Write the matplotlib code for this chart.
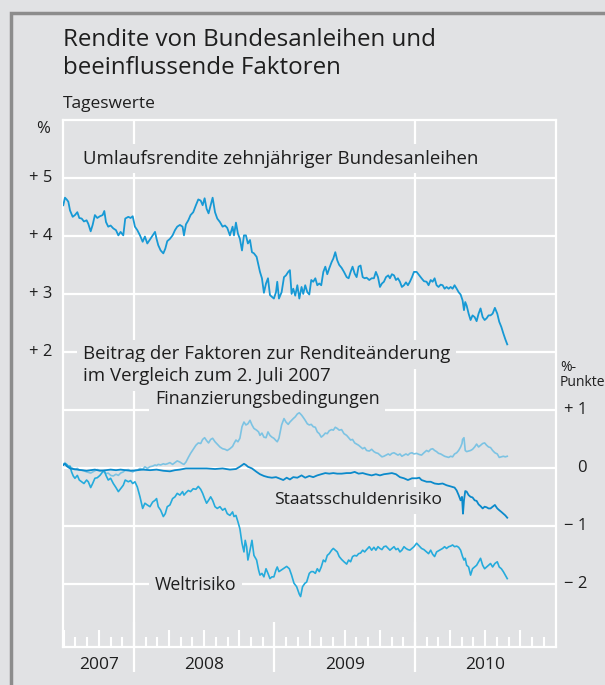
import matplotlib
matplotlib.use("Agg")
import matplotlib.pyplot as plt
from matplotlib.patches import Rectangle

plt.rcParams['font.family'] = ['Open Sans', 'DejaVu Sans']

# Umlaufsrendite zehnjähriger Bundesanleihen (%), Zeit als Dezimaljahr
rendite_t = [2007.497, 2007.509, 2007.521, 2007.533, 2007.545, 2007.564, 2007.580, 2007.597, 2007.611, 2007.628,
             2007.644, 2007.663, 2007.675, 2007.692, 2007.706, 2007.722, 2007.739, 2007.758, 2007.777, 2007.789,
             2007.801, 2007.817, 2007.834, 2007.853, 2007.872, 2007.889, 2007.905, 2007.924, 2007.938, 2007.960,
             2007.976, 2007.991, 2008.007, 2008.024, 2008.043, 2008.062, 2008.078, 2008.095, 2008.114, 2008.133,
             2008.150, 2008.161, 2008.173, 2008.190, 2008.209, 2008.223, 2008.237, 2008.256, 2008.275, 2008.292,
             2008.308, 2008.327, 2008.346, 2008.356, 2008.370, 2008.387, 2008.403, 2008.422, 2008.441, 2008.458,
             2008.475, 2008.489, 2008.503, 2008.517, 2008.531, 2008.546, 2008.560, 2008.577, 2008.593, 2008.612,
             2008.631, 2008.648, 2008.664, 2008.683, 2008.702, 2008.712, 2008.726, 2008.740, 2008.754, 2008.769,
             2008.783, 2008.797, 2008.811, 2008.826, 2008.840, 2008.854, 2008.873, 2008.887, 2008.897, 2008.911,
             2008.925, 2008.940, 2008.954, 2008.968, 2008.982, 2008.996, 2009.011, 2009.020, 2009.032,
             2009.051, 2009.068, 2009.082, 2009.098, 2009.110, 2009.122, 2009.134, 2009.148, 2009.163, 2009.177,
             2009.193, 2009.205, 2009.219, 2009.234, 2009.248, 2009.262, 2009.276, 2009.291, 2009.305, 2009.319,
             2009.333, 2009.348, 2009.362, 2009.376, 2009.390, 2009.407, 2009.419, 2009.433, 2009.447, 2009.461,
             2009.478, 2009.495, 2009.514, 2009.528, 2009.542, 2009.556, 2009.571, 2009.585, 2009.599, 2009.613,
             2009.628, 2009.642, 2009.656, 2009.675, 2009.692, 2009.708, 2009.722, 2009.737, 2009.751, 2009.765,
             2009.779, 2009.794, 2009.810, 2009.822, 2009.836, 2009.851, 2009.865, 2009.879, 2009.893, 2009.907,
             2009.922, 2009.936, 2009.950, 2009.964, 2009.979, 2009.993, 2010.012, 2010.031, 2010.047, 2010.064,
             2010.083, 2010.097, 2010.112, 2010.126, 2010.140, 2010.154, 2010.168, 2010.183, 2010.197, 2010.211,
             2010.225, 2010.240, 2010.254, 2010.268, 2010.282, 2010.297, 2010.311, 2010.325, 2010.339, 2010.349,
             2010.358, 2010.368, 2010.382, 2010.396, 2010.410, 2010.425, 2010.439, 2010.453, 2010.467, 2010.482,
             2010.496, 2010.510, 2010.524, 2010.538, 2010.553, 2010.569, 2010.586, 2010.600, 2010.615, 2010.629,
             2010.643, 2010.657]
rendite_v = [4.53, 4.66, 4.63, 4.59, 4.44, 4.33, 4.36, 4.41, 4.31, 4.30,
             4.25, 4.27, 4.21, 4.08, 4.19, 4.36, 4.31, 4.34, 4.36, 4.43,
             4.24, 4.16, 4.18, 4.13, 4.10, 4.01, 4.07, 4.01, 4.30, 4.33,
             4.31, 4.34, 4.16, 4.10, 4.01, 3.90, 3.99, 3.87, 3.94, 4.01,
             4.07, 3.95, 3.84, 3.75, 3.70, 3.78, 3.91, 3.95, 4.01, 4.10,
             4.16, 4.19, 4.16, 4.01, 4.20, 4.27, 4.36, 4.41, 4.53, 4.63,
             4.61, 4.53, 4.65, 4.47, 4.39, 4.53, 4.66, 4.41, 4.30, 4.24,
             4.16, 4.18, 4.14, 4.01, 4.16, 4.01, 4.23, 4.04, 3.95, 3.75,
             4.01, 4.01, 3.87, 3.93, 3.72, 3.70, 3.64, 3.49, 3.38, 3.27,
             3.02, 3.18, 3.27, 2.98, 2.95, 2.92, 3.03, 3.21, 2.92,
             3.03, 3.29, 3.32, 3.38, 3.41, 3.00, 3.09, 2.97, 3.15, 2.92,
             3.12, 3.00, 3.15, 3.03, 2.99, 3.24, 3.21, 3.27, 3.15, 3.18,
             3.15, 3.38, 3.47, 3.34, 3.44, 3.55, 3.61, 3.72, 3.58, 3.50,
             3.45, 3.38, 3.29, 3.27, 3.38, 3.47, 3.35, 3.29, 3.47, 3.49,
             3.29, 3.27, 3.28, 3.24, 3.27, 3.27, 3.38, 3.29, 3.12, 3.18,
             3.21, 3.29, 3.32, 3.27, 3.34, 3.32, 3.24, 3.27, 3.21, 3.12,
             3.15, 3.20, 3.15, 3.21, 3.29, 3.38, 3.38, 3.32, 3.27, 3.22,
             3.21, 3.15, 3.24, 3.21, 3.27, 3.15, 3.12, 3.16, 3.15, 3.09,
             3.12, 3.09, 3.12, 3.09, 3.15, 3.09, 3.03, 2.99, 2.89, 2.72,
             2.86, 2.80, 2.66, 2.55, 2.63, 2.60, 2.53, 2.66, 2.75, 2.60,
             2.55, 2.58, 2.63, 2.63, 2.66, 2.76, 2.66, 2.52, 2.43, 2.32,
             2.22, 2.13]

# Beitrag der Faktoren zur Renditeänderung seit 2. Juli 2007 (%-Punkte)
finanz_t = [2007.497, 2007.509, 2007.521, 2007.545, 2007.564, 2007.580, 2007.597, 2007.611, 2007.628, 2007.644,
            2007.663, 2007.692, 2007.722, 2007.739, 2007.758, 2007.777, 2007.801, 2007.817, 2007.834, 2007.853,
            2007.872, 2007.889, 2007.905, 2007.924, 2007.938, 2007.960, 2007.976, 2007.991, 2008.007, 2008.024,
            2008.043, 2008.062, 2008.078, 2008.095, 2008.114, 2008.133, 2008.150, 2008.161, 2008.173, 2008.190,
            2008.209, 2008.223, 2008.237, 2008.256, 2008.275, 2008.292, 2008.308, 2008.327, 2008.346, 2008.356,
            2008.370, 2008.387, 2008.403, 2008.422, 2008.441, 2008.458, 2008.475, 2008.489, 2008.503, 2008.517,
            2008.531, 2008.546, 2008.560, 2008.577, 2008.593, 2008.612, 2008.631, 2008.648, 2008.664, 2008.683,
            2008.702, 2008.712, 2008.726, 2008.740, 2008.754, 2008.769, 2008.783, 2008.797, 2008.811, 2008.826,
            2008.840, 2008.854, 2008.873, 2008.887, 2008.897, 2008.911, 2008.925, 2008.940, 2008.954, 2008.968,
            2008.982, 2008.996, 2009.011, 2009.020, 2009.032,
            2009.051, 2009.068, 2009.082, 2009.098, 2009.110, 2009.122, 2009.134, 2009.148, 2009.163, 2009.177,
            2009.193, 2009.205, 2009.219, 2009.234, 2009.248, 2009.262, 2009.276, 2009.291, 2009.305, 2009.319,
            2009.333, 2009.348, 2009.362, 2009.376, 2009.390, 2009.407, 2009.419, 2009.433, 2009.447, 2009.461,
            2009.478, 2009.495, 2009.514, 2009.528, 2009.542, 2009.556, 2009.571, 2009.585, 2009.599, 2009.613,
            2009.628, 2009.642, 2009.656, 2009.675, 2009.692, 2009.708, 2009.722, 2009.737, 2009.751, 2009.765,
            2009.779, 2009.794, 2009.810, 2009.822, 2009.836, 2009.851, 2009.865, 2009.879, 2009.893, 2009.907,
            2009.922, 2009.936, 2009.950, 2009.964, 2009.979, 2009.993, 2010.012, 2010.031, 2010.047, 2010.064,
            2010.083, 2010.097, 2010.112, 2010.126, 2010.140, 2010.154, 2010.168, 2010.183, 2010.197, 2010.211,
            2010.225, 2010.240, 2010.254, 2010.268, 2010.282, 2010.297, 2010.311, 2010.325, 2010.335, 2010.339,
            2010.349, 2010.358, 2010.368, 2010.382, 2010.396, 2010.410, 2010.425, 2010.439, 2010.453, 2010.467,
            2010.482, 2010.496, 2010.510, 2010.524, 2010.538, 2010.553, 2010.569, 2010.586, 2010.600, 2010.615,
            2010.629, 2010.643, 2010.657]
finanz_v = [0.06, 0.09, 0.05, 0.02, -0.01, -0.03, -0.01, -0.04, -0.04, -0.05,
            -0.07, -0.09, -0.05, -0.03, -0.04, -0.05, -0.10, -0.09, -0.13, -0.14,
            -0.11, -0.13, -0.09, -0.07, -0.04, -0.03, -0.05, -0.07, -0.05, -0.04,
            -0.01, -0.03, 0.02, -0.01, 0.02, 0.03, 0.05, 0.04, 0.06, 0.05,
            0.07, 0.06, 0.07, 0.09, 0.06, 0.09, 0.12, 0.10, 0.07, 0.06,
            0.10, 0.18, 0.25, 0.32, 0.39, 0.43, 0.42, 0.49, 0.52, 0.47,
            0.43, 0.49, 0.51, 0.45, 0.41, 0.36, 0.33, 0.32, 0.30, 0.33,
            0.37, 0.42, 0.48, 0.45, 0.51, 0.71, 0.79, 0.74, 0.76, 0.82,
            0.74, 0.68, 0.65, 0.62, 0.56, 0.60, 0.53, 0.52, 0.62, 0.56,
            0.53, 0.51, 0.47, 0.45, 0.51,
            0.74, 0.85, 0.79, 0.75, 0.79, 0.82, 0.85, 0.88, 0.93, 0.95,
            0.91, 0.87, 0.82, 0.76, 0.74, 0.75, 0.71, 0.70, 0.62, 0.59,
            0.53, 0.56, 0.60, 0.59, 0.64, 0.66, 0.65, 0.70, 0.68, 0.65,
            0.66, 0.59, 0.56, 0.52, 0.48, 0.49, 0.43, 0.41, 0.39, 0.36,
            0.33, 0.35, 0.30, 0.29, 0.32, 0.28, 0.26, 0.25, 0.22, 0.19,
            0.20, 0.22, 0.24, 0.22, 0.25, 0.26, 0.24, 0.22, 0.24, 0.20,
            0.22, 0.24, 0.22, 0.25, 0.26, 0.24, 0.25, 0.23, 0.22, 0.26,
            0.30, 0.28, 0.32, 0.33, 0.30, 0.28, 0.25, 0.24, 0.22, 0.20,
            0.19, 0.18, 0.20, 0.19, 0.24, 0.26, 0.30, 0.36, 0.42, 0.49,
            0.52, 0.30, 0.28, 0.29, 0.30, 0.32, 0.36, 0.41, 0.36, 0.39,
            0.42, 0.43, 0.39, 0.36, 0.35, 0.30, 0.26, 0.24, 0.18, 0.19,
            0.20, 0.19, 0.20]

staat_t = [2007.497, 2007.509, 2007.521, 2007.545, 2007.568, 2007.597, 2007.628, 2007.663, 2007.692, 2007.722,
           2007.758, 2007.801, 2007.834, 2007.872, 2007.905, 2007.938, 2007.976, 2008.024, 2008.062, 2008.114,
           2008.161, 2008.209, 2008.256, 2008.292, 2008.327, 2008.370, 2008.422, 2008.475, 2008.517, 2008.577,
           2008.631, 2008.683, 2008.726, 2008.754, 2008.783, 2008.797, 2008.811, 2008.840, 2008.873, 2008.897,
           2008.925, 2008.954, 2008.982, 2009.011, 2009.032,
           2009.063, 2009.087, 2009.110, 2009.134, 2009.163, 2009.193, 2009.219, 2009.248, 2009.276, 2009.305,
           2009.333, 2009.362, 2009.390, 2009.419, 2009.447, 2009.478, 2009.514, 2009.542, 2009.571, 2009.599,
           2009.628, 2009.656, 2009.692, 2009.722, 2009.751, 2009.779, 2009.810, 2009.836, 2009.865, 2009.893,
           2009.922, 2009.950, 2009.979, 2010.012, 2010.031, 2010.047, 2010.083, 2010.112, 2010.140, 2010.168,
           2010.197, 2010.225, 2010.254, 2010.282, 2010.297, 2010.311, 2010.325, 2010.335, 2010.342, 2010.349,
           2010.358, 2010.368, 2010.382, 2010.396, 2010.410, 2010.425, 2010.439, 2010.453, 2010.467, 2010.482,
           2010.496, 2010.510, 2010.524, 2010.538, 2010.553, 2010.569, 2010.586, 2010.600, 2010.615, 2010.629,
           2010.643, 2010.657]
staat_v = [0.05, 0.07, 0.03, -0.01, -0.02, -0.03, -0.04, -0.05, -0.04, -0.03,
           -0.05, -0.04, -0.03, -0.04, -0.03, -0.04, -0.05, -0.04, -0.03, -0.04,
           -0.03, -0.05, -0.06, -0.04, -0.03, -0.01, -0.01, -0.01, -0.01, -0.02,
           -0.01, -0.03, -0.02, 0.02, 0.07, 0.05, 0.02, -0.01, -0.07, -0.11,
           -0.14, -0.16, -0.17, -0.16, -0.18,
           -0.21, -0.17, -0.20, -0.16, -0.17, -0.13, -0.17, -0.14, -0.16, -0.13,
           -0.11, -0.09, -0.10, -0.09, -0.10, -0.10, -0.09, -0.09, -0.07, -0.10,
           -0.09, -0.11, -0.13, -0.11, -0.13, -0.11, -0.10, -0.09, -0.11, -0.16,
           -0.18, -0.21, -0.18, -0.18, -0.17, -0.21, -0.24, -0.24, -0.27, -0.28,
           -0.27, -0.30, -0.32, -0.34, -0.39, -0.47, -0.56, -0.50, -0.79, -0.56,
           -0.40, -0.41, -0.47, -0.50, -0.51, -0.56, -0.57, -0.63, -0.66, -0.70,
           -0.67, -0.68, -0.70, -0.70, -0.67, -0.64, -0.70, -0.73, -0.76, -0.79,
           -0.82, -0.86]

welt_t = [2007.497, 2007.509, 2007.521, 2007.533, 2007.545, 2007.556, 2007.568, 2007.580, 2007.597, 2007.611,
          2007.628, 2007.644, 2007.663, 2007.675, 2007.692, 2007.706, 2007.722, 2007.739, 2007.758, 2007.777,
          2007.789, 2007.801, 2007.817, 2007.834, 2007.853, 2007.872, 2007.889, 2007.905, 2007.924, 2007.938,
          2007.960, 2007.976, 2007.991, 2008.007, 2008.024, 2008.043, 2008.062, 2008.078, 2008.095, 2008.114,
          2008.133, 2008.150, 2008.161, 2008.173, 2008.190, 2008.209, 2008.223, 2008.237, 2008.256, 2008.275,
          2008.292, 2008.308, 2008.327, 2008.346, 2008.356, 2008.370, 2008.387, 2008.403, 2008.422, 2008.441,
          2008.458, 2008.475, 2008.489, 2008.503, 2008.517, 2008.531, 2008.546, 2008.560, 2008.577, 2008.593,
          2008.612, 2008.631, 2008.648, 2008.664, 2008.683, 2008.702, 2008.712, 2008.726, 2008.740, 2008.754,
          2008.769, 2008.783, 2008.792, 2008.802, 2008.811, 2008.826, 2008.840, 2008.854, 2008.873, 2008.887,
          2008.897, 2008.911, 2008.925, 2008.940, 2008.954, 2008.968, 2008.982, 2008.996, 2009.011, 2009.020,
          2009.032,
          2009.063, 2009.087, 2009.106, 2009.122, 2009.139, 2009.158, 2009.177, 2009.186, 2009.200, 2009.217,
          2009.229, 2009.248, 2009.262, 2009.276, 2009.291, 2009.305, 2009.319, 2009.333, 2009.348, 2009.362,
          2009.376, 2009.390, 2009.407, 2009.419, 2009.433, 2009.447, 2009.461, 2009.478, 2009.495, 2009.514,
          2009.528, 2009.542, 2009.556, 2009.571, 2009.585, 2009.599, 2009.613, 2009.628, 2009.642, 2009.656,
          2009.675, 2009.692, 2009.708, 2009.722, 2009.737, 2009.751, 2009.765, 2009.779, 2009.794, 2009.810,
          2009.822, 2009.836, 2009.851, 2009.865, 2009.879, 2009.893, 2009.907, 2009.922, 2009.936, 2009.950,
          2009.964, 2009.979, 2009.993, 2010.012, 2010.031, 2010.047, 2010.064, 2010.083, 2010.097, 2010.112,
          2010.126, 2010.140, 2010.154, 2010.168, 2010.183, 2010.197, 2010.211, 2010.225, 2010.240, 2010.254,
          2010.268, 2010.282, 2010.297, 2010.311, 2010.325, 2010.339, 2010.349, 2010.358, 2010.368, 2010.382,
          2010.396, 2010.410, 2010.425, 2010.439, 2010.453, 2010.467, 2010.482, 2010.496, 2010.510, 2010.524,
          2010.538, 2010.553, 2010.569, 2010.586, 2010.600, 2010.615, 2010.629, 2010.643, 2010.657]
welt_v = [0.05, 0.07, 0.06, 0.02, 0.03, -0.07, -0.14, -0.18, -0.13, -0.21,
          -0.24, -0.27, -0.21, -0.24, -0.34, -0.27, -0.18, -0.17, -0.13, -0.07,
          -0.05, -0.13, -0.21, -0.18, -0.27, -0.34, -0.41, -0.36, -0.30, -0.21,
          -0.24, -0.22, -0.27, -0.24, -0.33, -0.50, -0.70, -0.61, -0.64, -0.67,
          -0.59, -0.56, -0.53, -0.67, -0.73, -0.84, -0.79, -0.67, -0.64, -0.53,
          -0.50, -0.44, -0.47, -0.41, -0.47, -0.43, -0.39, -0.41, -0.36, -0.37,
          -0.32, -0.37, -0.44, -0.53, -0.61, -0.56, -0.50, -0.56, -0.67, -0.70,
          -0.67, -0.73, -0.70, -0.79, -0.82, -0.76, -0.84, -0.82, -0.93, -1.05,
          -1.30, -1.45, -1.25, -1.36, -1.59, -1.42, -1.25, -1.51, -1.59, -1.76,
          -1.85, -1.82, -1.88, -1.74, -1.82, -1.91, -1.88, -1.88, -1.76, -1.71,
          -1.79,
          -1.74, -1.70, -1.74, -1.85, -1.99, -2.05, -2.18, -2.22, -2.05, -1.99,
          -1.97, -1.82, -1.79, -1.79, -1.82, -1.74, -1.79, -1.71, -1.59, -1.62,
          -1.51, -1.48, -1.42, -1.39, -1.42, -1.45, -1.53, -1.58, -1.62, -1.66,
          -1.59, -1.62, -1.53, -1.51, -1.52, -1.48, -1.47, -1.42, -1.45, -1.41,
          -1.36, -1.42, -1.37, -1.42, -1.36, -1.39, -1.41, -1.36, -1.35, -1.39,
          -1.42, -1.39, -1.36, -1.41, -1.39, -1.45, -1.42, -1.36, -1.39, -1.41,
          -1.42, -1.39, -1.36, -1.30, -1.35, -1.39, -1.41, -1.45, -1.48, -1.42,
          -1.49, -1.53, -1.45, -1.43, -1.41, -1.39, -1.36, -1.39, -1.36, -1.35,
          -1.33, -1.36, -1.35, -1.37, -1.42, -1.53, -1.59, -1.56, -1.68, -1.71,
          -1.85, -1.74, -1.71, -1.68, -1.62, -1.56, -1.68, -1.74, -1.71, -1.68,
          -1.65, -1.71, -1.65, -1.62, -1.71, -1.74, -1.79, -1.85, -1.91]

jahre = [2007, 2008, 2009, 2010]
links_ticks = [2, 3, 4, 5]
rechts_ticks = [-2, -1, 0, 1]

bg = '#e1e2e4'
txt = '#1e1e1e'
W, H = 605, 685

fig = plt.figure(figsize=(W / 100, H / 100), dpi=100, facecolor=bg)
ax = fig.add_axes([63 / W, 1 - 647 / H, 493 / W, 527 / H], facecolor=bg)
ax.set_xlim(2007.495, 2011.004)
ax.set_ylim(-3.09, 6.0)

# Rahmen
fig.patches.append(Rectangle((11 / W, -0.1), 1.2, 1 - 13 / H + 0.1, transform=fig.transFigure,
                             fill=False, edgecolor='#8c8c8c', lw=2.5, zorder=0))

for s in ax.spines.values():
    s.set_color('white')
    s.set_linewidth(1.6)
ax.set_xticks([])
ax.set_yticks([])

# Gitterlinien
for v in [5, 4, 3, 2, 1, 0, -1, -2]:
    ax.axhline(v, color='white', lw=1.6, zorder=1)
for j in [2008, 2010]:
    ax.axvline(j, color='white', lw=1.6, zorder=1)

# Monatsticks an der Zeitachse
y0 = -3.09
for j in [2007, 2008, 2009, 2010]:
    for m in range(1, 12):
        t = j + m / 12
        if t < 2007.5:
            continue
        lang = 17 if m % 3 == 0 else 10
        ax.plot([t, t], [y0, y0 + lang / 58], color='white', lw=1.5, zorder=1, solid_capstyle='butt')
# Jahrestrenner
for j in [2008, 2009, 2010]:
    ax.plot([j, j], [y0 + 25 / 58, y0 - 25 / 58], color='white', lw=1.6, zorder=1,
            clip_on=False, solid_capstyle='butt')

for j in jahre:
    mitte = max(j, 2007.5) + (j + 1 - max(j, 2007.5)) / 2
    ax.text(mitte, y0 - 18 / 58, str(j), ha='center', va='center', fontsize=12.5, color=txt)

# Achsenbeschriftungen
for v in links_ticks:
    ax.text(2007.495 - 11 / 140.5, v, '+ %d' % v, ha='right', va='center', fontsize=12, color=txt)
ax.text(2007.495 - 13 / 140.5, 6.0 - 9 / 58, '%', ha='right', va='center', fontsize=12, color=txt)
for v in rechts_ticks:
    lab = '0' if v == 0 else ('+ %d' % v if v > 0 else '\u2212 %d' % abs(v))
    ax.text(2011.004 + 31 / 140.5, v, lab, ha='right', va='center', fontsize=12, color=txt, clip_on=False)
ax.text(2011.004 + 4 / 140.5, 1.60, '%-\nPunkte', ha='left', va='center', fontsize=10,
        color=txt, linespacing=1.05, clip_on=False)

# Linien
ax.plot(rendite_t, rendite_v, color='#1799d5', lw=1.3, zorder=4)
ax.plot(finanz_t, finanz_v, color='#7cc3e3', lw=1.2, zorder=4)
ax.plot(welt_t, welt_v, color='#25abdc', lw=1.2, zorder=4)
ax.plot(staat_t, staat_v, color='#0b8acb', lw=1.3, zorder=5)

# Beschriftungen im Diagramm
box = dict(facecolor=bg, edgecolor='none', pad=4)
ax.text(2007.637, 5.33, 'Umlaufsrendite zehnjähriger Bundesanleihen', fontsize=13.4, color=txt,
        ha='left', va='center', bbox=box, zorder=3)
ax.text(2007.637, 1.96, 'Beitrag der Faktoren zur Renditeänderung', fontsize=13.4, color=txt,
        ha='left', va='center', bbox=box, zorder=3)
ax.text(2007.637, 1.58, 'im Vergleich zum 2. Juli 2007', fontsize=13.4, color=txt,
        ha='left', va='center', bbox=box, zorder=3)
ax.text(2008.149, 1.18, 'Finanzierungsbedingungen', fontsize=12.8, color=txt,
        ha='left', va='center', bbox=box, zorder=3)
ax.text(2009.0, -0.56, 'Staatsschuldenrisiko', fontsize=12.6, color=txt,
        ha='left', va='center', bbox=box, zorder=3)
ax.text(2008.149, -2.02, 'Weltrisiko', fontsize=12.8, color=txt,
        ha='left', va='center', bbox=box, zorder=3)

# Titel
fig.text(63 / W, 1 - 46 / H, 'Rendite von Bundesanleihen und', fontsize=17.4, color=txt, va='baseline')
fig.text(63 / W, 1 - 74 / H, 'beeinflussende Faktoren', fontsize=17.4, color=txt, va='baseline')
fig.text(63 / W, 1 - 108 / H, 'Tageswerte', fontsize=12.5, color=txt, va='baseline')

fig.savefig('out.png', dpi=100, facecolor=bg)
